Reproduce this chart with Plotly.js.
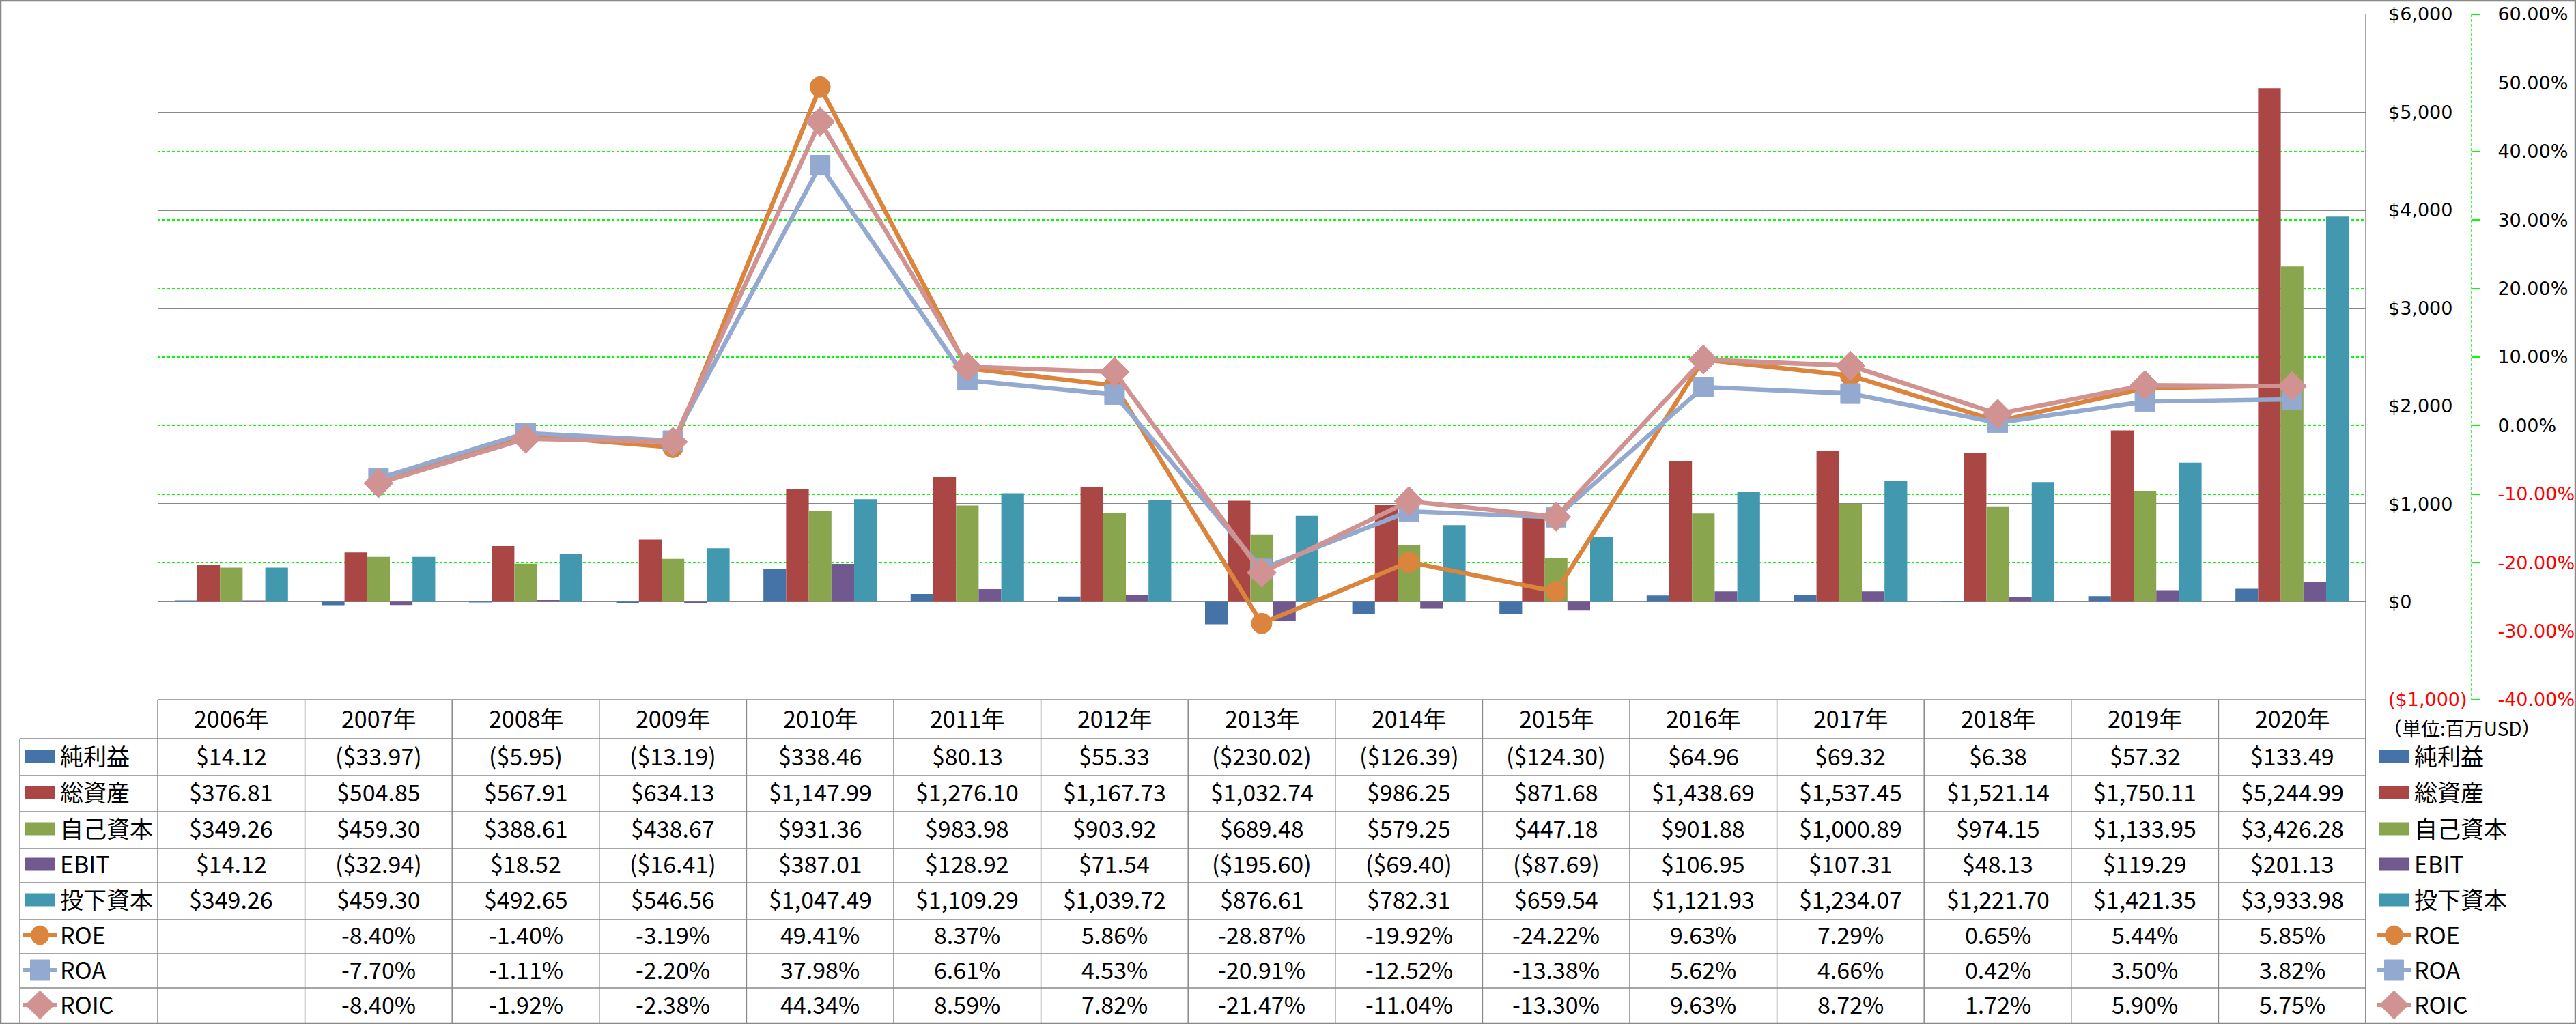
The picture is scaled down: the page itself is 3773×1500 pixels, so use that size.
<!DOCTYPE html>
<html>
<head>
<meta charset="utf-8">
<script src="https://cdn.plot.ly/plotly-3.0.1.min.js"></script>
<style>html,body{margin:0;padding:0;background:#fff;}#chart{width:3773px;height:1500px;}</style>
</head>
<body>
<div id="chart"></div>
<script>
// ---------------- data ----------------
const years = ['2006年','2007年','2008年','2009年','2010年','2011年','2012年','2013年','2014年','2015年','2016年','2017年','2018年','2019年','2020年'];
const netIncome = [14.12, -33.97, -5.95, -13.19, 338.46, 80.13, 55.33, -230.02, -126.39, -124.30, 64.96, 69.32, 6.38, 57.32, 133.49];
const totalAssets = [376.81, 504.85, 567.91, 634.13, 1147.99, 1276.10, 1167.73, 1032.74, 986.25, 871.68, 1438.69, 1537.45, 1521.14, 1750.11, 5244.99];
const equity = [349.26, 459.30, 388.61, 438.67, 931.36, 983.98, 903.92, 689.48, 579.25, 447.18, 901.88, 1000.89, 974.15, 1133.95, 3426.28];
const ebit = [14.12, -32.94, 18.52, -16.41, 387.01, 128.92, 71.54, -195.60, -69.40, -87.69, 106.95, 107.31, 48.13, 119.29, 201.13];
const investedCapital = [349.26, 459.30, 492.65, 546.56, 1047.49, 1109.29, 1039.72, 876.61, 782.31, 659.54, 1121.93, 1234.07, 1221.70, 1421.35, 3933.98];
const roe = [null, -8.40, -1.40, -3.19, 49.41, 8.37, 5.86, -28.87, -19.92, -24.22, 9.63, 7.29, 0.65, 5.44, 5.85];
const roa = [null, -7.70, -1.11, -2.20, 37.98, 6.61, 4.53, -20.91, -12.52, -13.38, 5.62, 4.66, 0.42, 3.50, 3.82];
const roic = [null, -8.40, -1.92, -2.38, 44.34, 8.59, 7.82, -21.47, -11.04, -13.30, 9.63, 8.72, 1.72, 5.90, 5.75];

const seriesNames = ['純利益','総資産','自己資本','EBIT','投下資本','ROE','ROA','ROIC'];
const moneyTickVals = [-1000, 0, 1000, 2000, 3000, 4000, 5000, 6000];
const moneyTickText = ['($1,000)', '$0', '$1,000', '$2,000', '$3,000', '$4,000', '$5,000', '$6,000'];
const pctTickVals = [-40, -30, -20, -10, 0, 10, 20, 30, 40, 50, 60];
const pctTickText = ['-40.00%', '-30.00%', '-20.00%', '-10.00%', '0.00%', '10.00%', '20.00%', '30.00%', '40.00%', '50.00%', '60.00%'];
const unitLabel = '（単位:百万USD）';

// ---------------- styles ----------------
const colors = ['#4572A7', '#AA4643', '#89A54E', '#71588F', '#4198AF', '#DB843D', '#93A9CF', '#D19392'];
const W = 3773, H = 1500;
const px = v => v / W;
const py = v => 1 - v / H;
const plotL = 231, plotR = 3465, plotT = 21, plotB = 1025;
const catW = (plotR - plotL) / years.length;
const axis2X = 3620;
const gray = '#888888';
const green = '#00FF00';
const tableFont = 'Noto Sans CJK JP';
const axisFont = 'DejaVu Sans';

function red(t) { return '<span style="color:#FF0000">' + t + '</span>'; }
function money(v) {
  const s = '$' + Math.abs(v).toLocaleString('en-US', {minimumFractionDigits: 2, maximumFractionDigits: 2});
  return v < 0 ? '(' + s + ')' : s;
}
function pct(v) { return v == null ? '' : v.toFixed(2) + '%'; }

const barSeries = [netIncome, totalAssets, equity, ebit, investedCapital];
const lineSeries = [roe, roa, roic];
const lineSymbols = ['circle', 'square', 'diamond'];
const lineSizes = [30, 29, 33];

const traces = [];
barSeries.forEach((vals, i) => {
  traces.push({
    type: 'bar', x: years, y: vals, name: seriesNames[i], yaxis: 'y', xaxis: 'x',
    marker: {color: colors[i], line: {width: 0}}, showlegend: false, hoverinfo: 'skip'
  });
});
lineSeries.forEach((vals, i) => {
  traces.push({
    type: 'scatter', mode: 'lines+markers', x: years, y: vals, name: seriesNames[5 + i],
    yaxis: 'y2', xaxis: 'x', connectgaps: false,
    line: {color: colors[5 + i], width: 6.5},
    marker: {symbol: lineSymbols[i], size: lineSizes[i], color: colors[5 + i], line: {color: colors[5 + i], width: 1}},
    showlegend: false, hoverinfo: 'skip', cliponaxis: false
  });
});

// ---------------- table ----------------
const headerY = 1053;
const rowLines = [1082, 1136, 1189, 1243, 1293, 1347, 1397, 1447];
const rowBottom = 1498;
const rowCenters = [1108, 1161, 1214, 1266, 1318, 1370, 1421, 1472];
const textShift = 2;
const tableRows = [
  netIncome.map(money), totalAssets.map(money), equity.map(money), ebit.map(money),
  investedCapital.map(money), roe.map(pct), roa.map(pct), roic.map(pct)
];

const shapes = [];
const annotations = [];
const ln = (x0, y0, x1, y1, c, w, dash) => shapes.push({type: 'line', xref: 'paper', yref: 'paper',
  x0: px(x0), y0: py(y0), x1: px(x1), y1: py(y1), line: {color: c, width: w, dash: dash || 'solid'}, layer: 'above'});

// table grid
ln(plotL, plotB, plotR, plotB, gray, 1.5);
rowLines.forEach(y => ln(29, y, plotR, y, gray, 1.5));
ln(29, rowLines[0], 29, rowBottom, gray, 1.5);
for (let k = 0; k <= years.length; k++) {
  const x = plotL + k * catW;
  ln(x, plotB, x, rowBottom, gray, 1.5);
}
ln(plotR, plotT, plotR, rowBottom, gray, 1.5);
// secondary axis dashed line
ln(axis2X, plotT, axis2X, plotB, green, 1.5, '4px,3px');
// outer chart border
shapes.push({type: 'rect', xref: 'paper', yref: 'paper', x0: px(1), y0: py(1), x1: px(W - 1), y1: py(H - 1),
  line: {color: gray, width: 2.5}, layer: 'above'});

// header
years.forEach(yr => annotations.push({xref: 'x', yref: 'paper', x: yr, y: py(headerY - textShift),
  text: yr, showarrow: false, xanchor: 'center', yanchor: 'middle', font: {family: tableFont, size: 34, color: '#000'}}));
// cells
tableRows.forEach((row, r) => row.forEach((t, i) => {
  if (t === '') return;
  annotations.push({xref: 'x', yref: 'paper', x: years[i], y: py(rowCenters[r] - textShift), text: t,
    showarrow: false, xanchor: 'center', yanchor: 'middle', font: {family: tableFont, size: 34, color: '#000'}});
}));

// legend keys (left inside table, right outside)
function legendKey(r, x0, x1, textX) {
  const cy = rowCenters[r];
  const c = colors[r];
  if (r < 5) {
    shapes.push({type: 'rect', xref: 'paper', yref: 'paper', x0: px(x0), x1: px(x1), y0: py(cy - 9.5), y1: py(cy + 9.5),
      fillcolor: c, line: {width: 0}, layer: 'above'});
  } else {
    ln(x0 - 2, cy, x1 + 2, cy, c, 6);
    const cx = (x0 + x1) / 2;
    if (r === 5) {
      shapes.push({type: 'circle', xref: 'paper', yref: 'paper', x0: px(cx - 13), x1: px(cx + 13), y0: py(cy - 14), y1: py(cy + 14),
        fillcolor: c, line: {color: c, width: 1}, layer: 'above'});
    } else if (r === 6) {
      shapes.push({type: 'rect', xref: 'paper', yref: 'paper', x0: px(cx - 14), x1: px(cx + 14), y0: py(cy - 15), y1: py(cy + 15),
        fillcolor: c, line: {color: c, width: 1}, layer: 'above'});
    } else {
      const d = 21;
      shapes.push({type: 'path', xref: 'paper', yref: 'paper',
        path: 'M' + px(cx) + ',' + py(cy - d) + ' L' + px(cx + d) + ',' + py(cy) + ' L' + px(cx) + ',' + py(cy + d) + ' L' + px(cx - d) + ',' + py(cy) + ' Z',
        fillcolor: c, line: {color: c, width: 1}, layer: 'above'});
    }
  }
  annotations.push({xref: 'paper', yref: 'paper', x: px(textX), y: py(cy - textShift), text: seriesNames[r], showarrow: false,
    xanchor: 'left', yanchor: 'middle', font: {family: tableFont, size: 34, color: '#000'}});
}
seriesNames.forEach((n, r) => { legendKey(r, 36, 81, 86); legendKey(r, 3484, 3529, 3534); });

annotations.push({xref: 'paper', yref: 'paper', x: px(3488), y: py(1066), text: unitLabel, showarrow: false,
  xanchor: 'left', yanchor: 'middle', font: {family: tableFont, size: 28, color: '#000'}});

const layout = {
  width: W, height: H,
  margin: {l: 0, r: 0, t: 0, b: 0, pad: 0},
  paper_bgcolor: '#ffffff', plot_bgcolor: 'rgba(0,0,0,0)',
  font: {family: tableFont, color: '#000'},
  barmode: 'group', bargap: 0.23, bargroupgap: 0,
  showlegend: false,
  xaxis: {type: 'category', domain: [px(plotL), px(plotR)], range: [-0.5, years.length - 0.5],
    showticklabels: false, showgrid: false, zeroline: false, showline: false, ticks: '', fixedrange: true},
  yaxis: {domain: [py(plotB), py(plotT)], range: [-1000, 6000], side: 'right', anchor: 'x',
    tickvals: moneyTickVals, ticktext: moneyTickText.map((t, i) => moneyTickVals[i] < 0 ? red(t) : t),
    showgrid: true, gridcolor: gray, gridwidth: 1.5, zeroline: true, zerolinecolor: gray, zerolinewidth: 1.5,
    showline: false, ticks: '', ticklabelstandoff: 32,
    tickfont: {family: axisFont, size: 27, color: '#000'}, fixedrange: true},
  yaxis2: {overlaying: 'y', side: 'right', anchor: 'free', position: px(axis2X), range: [-40, 60],
    tickvals: pctTickVals, ticktext: pctTickText.map((t, i) => pctTickVals[i] < 0 ? red(t) : t),
    showgrid: true, gridcolor: green, gridwidth: 1.5, griddash: '4px,3px', zeroline: false, showline: false,
    ticks: 'outside', ticklen: 12, tickcolor: green, tickwidth: 1.5, ticklabelstandoff: 20,
    tickfont: {family: axisFont, size: 27, color: '#000'}, fixedrange: true},
  shapes: shapes,
  annotations: annotations
};

Plotly.newPlot('chart', traces, layout, {displayModeBar: false, staticPlot: true});
</script>
</body>
</html>
